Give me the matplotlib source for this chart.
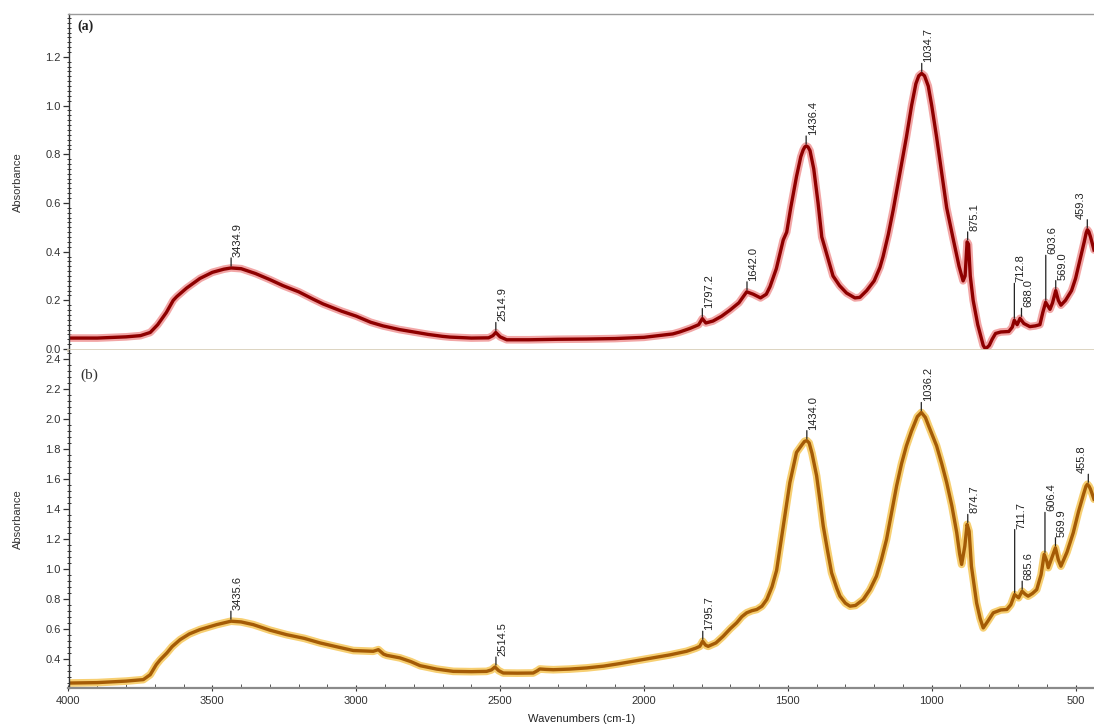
import matplotlib
matplotlib.use("Agg")
import matplotlib.pyplot as plt
from matplotlib.ticker import MultipleLocator, FormatStrFormatter

plt.rcParams['font.family'] = ['Liberation Sans', 'DejaVu Sans']

# ---------------- data (a) ----------------
wn_a = [4000, 3900, 3800, 3750, 3716, 3690, 3660, 3636, 3624, 3590, 3543, 3500, 3460, 3435,
        3400, 3350, 3300, 3254, 3200, 3150, 3115, 3050, 3000, 2950, 2907, 2850, 2800, 2750,
        2700, 2674, 2600, 2540, 2525, 2515, 2500, 2477, 2400, 2300, 2200, 2100, 2000, 1950,
        1900, 1876, 1840, 1810, 1797, 1785, 1760, 1730, 1701, 1670, 1643, 1620, 1595, 1575,
        1562, 1540, 1516, 1504, 1490, 1470, 1455, 1447, 1441, 1436, 1430, 1423, 1410, 1395,
        1382, 1360, 1343, 1320, 1296, 1267, 1250, 1226, 1200, 1180, 1169, 1151, 1134, 1111,
        1088, 1070, 1055, 1045, 1035, 1025, 1012, 1000, 983, 965, 948, 925, 905, 891, 884,
        877, 872, 866, 856, 840, 821, 813, 800, 790, 778, 760, 732, 720, 713, 703, 693, 680,
        659, 640, 624, 614, 604, 595, 589, 580, 569, 560, 551, 535, 514, 500, 485, 470, 463,
        459, 454, 448, 436]
abs_a = [0.045, 0.045, 0.050, 0.055, 0.068, 0.100, 0.150, 0.200, 0.215, 0.250, 0.290, 0.315,
         0.328, 0.333, 0.330, 0.310, 0.285, 0.260, 0.235, 0.205, 0.185, 0.155, 0.135, 0.110,
         0.095, 0.080, 0.070, 0.060, 0.052, 0.049, 0.045, 0.046, 0.055, 0.068, 0.050, 0.038,
         0.038, 0.040, 0.041, 0.043, 0.048, 0.055, 0.062, 0.070, 0.085, 0.100, 0.125, 0.107,
         0.115, 0.135, 0.160, 0.190, 0.235, 0.225, 0.210, 0.225, 0.256, 0.330, 0.448, 0.480,
         0.580, 0.708, 0.790, 0.817, 0.830, 0.834, 0.830, 0.815, 0.740, 0.600, 0.460, 0.370,
         0.300, 0.260, 0.230, 0.210, 0.212, 0.240, 0.280, 0.335, 0.380, 0.470, 0.570, 0.720,
         0.870, 1.000, 1.090, 1.122, 1.132, 1.122, 1.080, 1.000, 0.870, 0.720, 0.580, 0.450,
         0.340, 0.280, 0.300, 0.440, 0.430, 0.300, 0.200, 0.100, 0.015, 0.000, 0.015, 0.040,
         0.064, 0.070, 0.072, 0.090, 0.118, 0.100, 0.126, 0.105, 0.092, 0.095, 0.100, 0.150,
         0.192, 0.175, 0.163, 0.190, 0.240, 0.200, 0.180, 0.200, 0.240, 0.290, 0.365, 0.440,
         0.478, 0.490, 0.482, 0.460, 0.407]

# ---------------- data (b) ----------------
wn_b = [4000, 3900, 3800, 3740, 3716, 3695, 3681, 3658, 3640, 3612, 3580, 3543, 3485, 3435,
        3400, 3358, 3300, 3242, 3180, 3126, 3070, 3010, 2960, 2941, 2923, 2905, 2894, 2848,
        2810, 2778, 2720, 2663, 2600, 2547, 2530, 2518, 2505, 2489, 2440, 2385, 2370, 2362,
        2340, 2315, 2260, 2199, 2140, 2084, 2030, 1968, 1910, 1852, 1820, 1806, 1796, 1786,
        1777, 1750, 1725, 1700, 1678, 1660, 1643, 1625, 1608, 1590, 1573, 1555, 1539, 1528,
        1510, 1493, 1470, 1450, 1442, 1434, 1426, 1416, 1400, 1388, 1377, 1362, 1348, 1330,
        1319, 1300, 1284, 1265, 1238, 1215, 1192, 1175, 1157, 1140, 1122, 1105, 1088, 1070,
        1050, 1036, 1022, 1010, 983, 965, 948, 930, 913, 903, 896, 885, 877, 870, 862, 852,
        844, 832, 821, 805, 786, 760, 739, 725, 712, 698, 686, 675, 665, 650, 635, 620, 609,
        600, 595, 583, 570, 560, 551, 530, 508, 490, 472, 464, 459, 453, 448, 436]
abs_b = [0.237, 0.240, 0.250, 0.260, 0.293, 0.360, 0.393, 0.438, 0.480, 0.527, 0.565, 0.594,
         0.627, 0.650, 0.645, 0.627, 0.590, 0.560, 0.535, 0.505, 0.480, 0.454, 0.450, 0.449,
         0.460, 0.430, 0.422, 0.405, 0.380, 0.353, 0.330, 0.315, 0.313, 0.315, 0.325, 0.344,
         0.320, 0.304, 0.303, 0.304, 0.320, 0.331, 0.328, 0.326, 0.330, 0.338, 0.350, 0.367,
         0.385, 0.405, 0.425, 0.449, 0.470, 0.482, 0.516, 0.490, 0.482, 0.505, 0.549, 0.600,
         0.639, 0.680, 0.706, 0.720, 0.728, 0.750, 0.795, 0.880, 0.990, 1.129, 1.360, 1.575,
         1.776, 1.830, 1.850, 1.855, 1.840, 1.770, 1.620, 1.450, 1.285, 1.120, 0.973, 0.870,
         0.817, 0.770, 0.750, 0.755, 0.795, 0.860, 0.950, 1.060, 1.196, 1.370, 1.553, 1.700,
         1.820, 1.920, 2.015, 2.043, 2.010, 1.950, 1.820, 1.700, 1.575, 1.420, 1.240, 1.100,
         1.029, 1.150, 1.296, 1.250, 1.017, 0.880, 0.772, 0.670, 0.605, 0.650, 0.706, 0.725,
         0.728, 0.760, 0.828, 0.806, 0.850, 0.830, 0.817, 0.835, 0.861, 0.960, 1.096, 1.050,
         1.007, 1.070, 1.140, 1.060, 1.017, 1.110, 1.241, 1.380, 1.500, 1.550, 1.564, 1.550,
         1.530, 1.464]

# ---------------- peak labels ----------------
peaks_a_wn = [3434.9, 2514.9, 1797.2, 1642.0, 1436.4, 1034.7, 875.1, 712.8, 688.0, 603.6, 569.0, 459.3]
peaks_a_y = [0.333, 0.068, 0.125, 0.235, 0.834, 1.132, 0.440, 0.118, 0.126, 0.192, 0.240, 0.490]
peaks_a_lbl = ["3434.9", "2514.9", "1797.2", "1642.0", "1436.4", "1034.7", "875.1", "712.8",
               "688.0", "603.6", "569.0", "459.3"]
peaks_a_len = [8, 8, 8, 8, 8, 8, 8, 35, 8, 45, 8, 8]

peaks_b_wn = [3435.6, 2514.5, 1795.7, 1434.0, 1036.2, 874.7, 711.7, 685.6, 606.4, 569.9, 455.8]
peaks_b_y = [0.650, 0.344, 0.516, 1.855, 2.043, 1.296, 0.828, 0.850, 1.096, 1.140, 1.564]
peaks_b_lbl = ["3435.6", "2514.5", "1795.7", "1434.0", "1036.2", "874.7", "711.7", "685.6",
               "606.4", "569.9", "455.8"]
peaks_b_len = [8, 8, 8, 8, 8, 8, 63, 8, 40, 8, 8]

# ---------------- figure ----------------
W, H = 1094, 726
fig = plt.figure(figsize=(W / 100, H / 100), dpi=100)
fig.patch.set_facecolor('white')

left = 68.5 / W
ax_a = fig.add_axes([left, 1 - 350 / H, 1.0 - left, (350 - 14) / H])
ax_b = fig.add_axes([left, 1 - 688 / H, 1.0 - left, (688 - 350) / H])

red_core, red_glow = '#8e0000', '#f2a6a6'
org_core, org_glow = '#a45b06', '#f7cf72'

ax_a.plot(wn_a, abs_a, color=red_glow, lw=5.5, solid_capstyle='round', solid_joinstyle='round')
ax_a.plot(wn_a, abs_a, color=red_core, lw=2.4, solid_joinstyle='round')
ax_b.plot(wn_b, abs_b, color=org_glow, lw=5.5, solid_capstyle='round', solid_joinstyle='round')
ax_b.plot(wn_b, abs_b, color=org_core, lw=2.4, solid_joinstyle='round')

ax_a.set_xlim(4000, 436)
ax_b.set_xlim(4000, 436)
ax_a.set_ylim(-0.004, 1.376)
ax_b.set_ylim(0.204, 2.46)

for ax in (ax_a, ax_b):
    ax.set_facecolor('white')
    ax.spines['right'].set_visible(False)
    ax.spines['left'].set_color('#333333')
    ax.spines['left'].set_linewidth(1.0)
    ax.yaxis.set_major_locator(MultipleLocator(0.2))
    ax.yaxis.set_major_formatter(FormatStrFormatter('%.1f'))
    ax.yaxis.set_minor_locator(MultipleLocator(0.02 if ax is ax_a else 0.04))
    ax.tick_params(axis='y', which='major', direction='out', length=4, width=0.9,
                   colors='#333333', labelsize=8, pad=1.5)
    ax.tick_params(axis='y', which='minor', direction='inout', length=3, width=0.7,
                   colors='#333333')
    ax.set_ylabel('Absorbance', fontsize=8, color='#333333')
    ax.yaxis.set_label_coords(-0.044, 0.5)

ax_a.spines['top'].set_color('#9a9a9a')
ax_a.spines['top'].set_linewidth(1.0)
ax_a.spines['bottom'].set_color('#d9d0bb')
ax_a.spines['bottom'].set_linewidth(2.0)
ax_a.tick_params(axis='x', which='both', bottom=False, labelbottom=False)

ax_b.spines['top'].set_visible(False)
ax_b.spines['bottom'].set_color('#8a8a8a')
ax_b.spines['bottom'].set_linewidth(1.6)
ax_b.xaxis.set_major_locator(MultipleLocator(500))
ax_b.xaxis.set_minor_locator(MultipleLocator(100))
ax_b.tick_params(axis='x', which='major', direction='inout', length=5, width=0.8,
                 colors='#333333', labelsize=8, pad=3)
ax_b.tick_params(axis='x', which='minor', direction='in', length=3, width=0.7, colors='#555555')
ax_b.set_xlabel('Wavenumbers (cm-1)', fontsize=8, color='#222222', labelpad=6)

ax_a.text(0.009, 0.965, '(a)', transform=ax_a.transAxes, fontsize=10, fontweight='bold',
          family='Liberation Serif', va='center', ha='left', color='#222222')
ax_b.text(0.012, 0.925, '(b)', transform=ax_b.transAxes, fontsize=11,
          family='Liberation Serif', va='center', ha='left', color='#333333')


def label_peaks(ax, wns, ys, lbls, lens):
    for w, y, t, L in zip(wns, ys, lbls, lens):
        gap = 2
        ax.annotate('', xy=(w, y), xycoords='data', xytext=(0, gap + L), textcoords='offset pixels',
                    arrowprops=dict(arrowstyle='-', lw=0.9, color='#222222', shrinkA=0,
                                    shrinkB=gap * 72 / 100))
        dx = 6.5 if w > 500 else -6.5
        ax.annotate(t, xy=(w, y), xycoords='data', xytext=(dx, gap + L + 1),
                    textcoords='offset pixels', rotation=90, ha='center', va='bottom',
                    fontsize=8, color='#222222', annotation_clip=False)


label_peaks(ax_a, peaks_a_wn, peaks_a_y, peaks_a_lbl, peaks_a_len)
label_peaks(ax_b, peaks_b_wn, peaks_b_y, peaks_b_lbl, peaks_b_len)

fig.savefig('out.png', dpi=100)
